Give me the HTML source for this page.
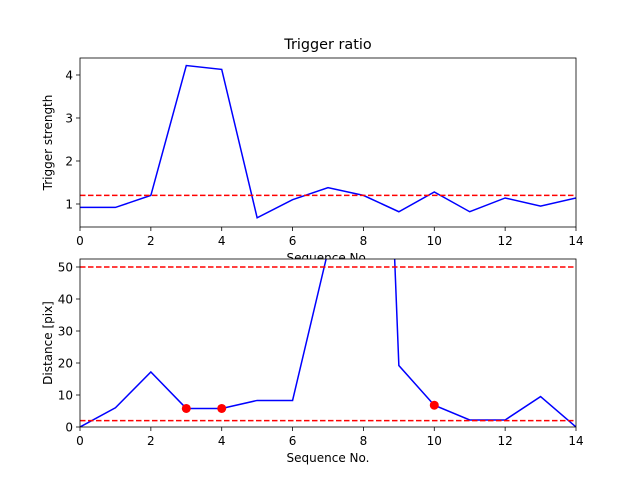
<!DOCTYPE html>
<html><head><meta charset="utf-8"><style>
body{margin:0;background:#fff}
svg text{font-family:"DejaVu Sans","Liberation Sans",sans-serif;fill:#000}
</style></head><body>
<svg id="c" width="640" height="480" viewBox="0 0 640 480" xmlns="http://www.w3.org/2000/svg">
<defs>
<clipPath id="c1"><rect x="80" y="58" width="496" height="169"/></clipPath>
<clipPath id="c2"><rect x="80" y="259" width="496" height="168"/></clipPath>
</defs>
<g id="g"></g>
</svg>
<script>
const seq=[0,1,2,3,4,5,6,7,8,9,10,11,12,13,14];
const strength=[0.92,0.92,1.2,4.22,4.13,0.68,1.1,1.38,1.2,0.82,1.28,0.82,1.14,0.95,1.14];
const strengthThreshold=[1.2];
const distance=[0,6,17.2,5.8,5.8,8.3,8.3,55,300,19.2,6.8,2.2,2.2,9.5,0];
const distanceThresholds=[50,2];
const markedIdx=[3,4,10];
const xTicks=[0,2,4,6,8,10,12,14];
const yTicksTop=[1,2,3,4];
const yTicksBot=[0,10,20,30,40,50];

const NS='http://www.w3.org/2000/svg';
const g=document.getElementById('g');
function mk(t,a,p){const e=document.createElementNS(NS,t);for(const k in a)e.setAttribute(k,a[k]);(p||g).appendChild(e);return e;}
const X=v=>80+v/14*496;
const Y1=v=>227-(v-0.465)/(4.395-0.465)*169;
const Y2=v=>427-v/52.5*168;

function axes(top,bot,Y,yt,xlabel,ylabel,name){
  const bg=mk('rect',{x:80,y:top,width:496,height:bot-top,fill:'#fff'});
  
  
  xTicks.forEach(t=>{
    mk('line',{x1:X(t),x2:X(t),y1:bot,y2:bot+4,stroke:'#000','stroke-width':0.8});
    const tx=mk('text',{x:X(t),y:bot+18,'font-size':12,'text-anchor':'middle'});
    tx.textContent=t;
    
    
  });
  yt.forEach(t=>{
    mk('line',{x1:76,x2:80,y1:Y(t),y2:Y(t),stroke:'#000','stroke-width':0.8});
    const tx=mk('text',{x:73,y:Y(t)+4.5,'font-size':12,'text-anchor':'end'});
    tx.textContent=t;
    
    
  });
  const xl=mk('text',{x:328,y:bot+35,'font-size':12,'text-anchor':'middle'});
  xl.textContent=xlabel;
  
  
  const yl=mk('text',{x:0,y:0,'font-size':12,'text-anchor':'middle',transform:`translate(52,${(top+bot)/2}) rotate(-90)`});
  yl.textContent=ylabel;
  
  
}
function series(vals,Y,clip,name){
  const d=vals.map((v,i)=>(i?'L':'M')+X(seq[i])+','+Y(v)).join('');
  const p=mk('path',{d:d,fill:'none',stroke:'#0000ff','stroke-width':1.5,'clip-path':`url(#${clip})`});
  
  
}
function hline(v,Y,clip,name){
  const l=mk('line',{x1:80,x2:576,y1:Y(v),y2:Y(v),stroke:'#ff0000','stroke-width':1.5,'stroke-dasharray':'5.5,2.5','clip-path':`url(#${clip})`});
  
  
}
function frame(top,bot,name){
  const f=mk('rect',{x:80,y:top,width:496,height:bot-top,fill:'none',stroke:'#000','stroke-width':0.8});
  
  
}

// top
axes(58,227,Y1,yTicksTop,'Sequence No.','Trigger strength','top');
series(strength,Y1,'c1','strength-line');
strengthThreshold.forEach(v=>hline(v,Y1,'c1','strength-threshold'));
frame(58,227,'top');
const title=mk('text',{x:328,y:49,'font-size':14.4,'text-anchor':'middle'});
title.textContent='Trigger ratio';



// bottom
axes(259,427,Y2,yTicksBot,'Sequence No.','Distance [pix]','bottom');
series(distance,Y2,'c2','distance-line');
distanceThresholds.forEach(v=>hline(v,Y2,'c2','distance-threshold'));
markedIdx.forEach(i=>{
  const c=mk('circle',{cx:X(seq[i]),cy:Y2(distance[i]),r:4.5,fill:'#ff0000','clip-path':'url(#c2)'});
  
  
});
frame(259,427,'bottom');
</script>
</body></html>
